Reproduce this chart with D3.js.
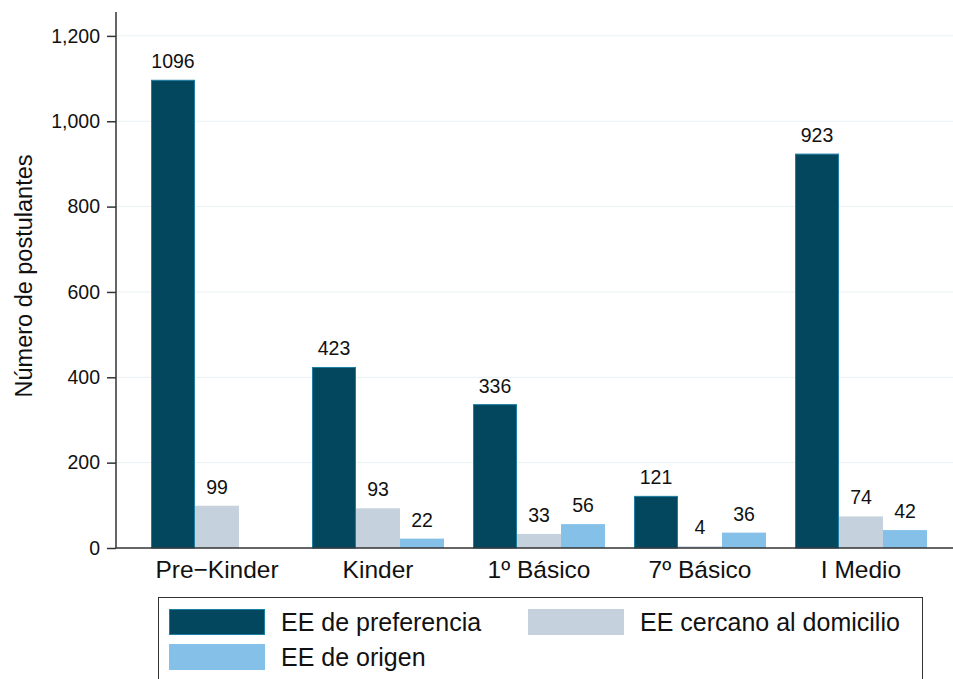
<!DOCTYPE html>
<html>
<head>
<meta charset="utf-8">
<script src="https://cdn.jsdelivr.net/npm/d3@7"></script>
<style>
  body { margin: 0; background: #fff; }
  svg { display: block; font-family: "Liberation Sans", Arial, sans-serif; }
</style>
</head>
<body>
<svg id="chart" width="953" height="679"></svg>
<script>
// data
const categories = ["Pre\u2212Kinder", "Kinder", "1\u00ba B\u00e1sico", "7\u00ba B\u00e1sico", "I Medio"];
const seriesNames = ["EE de preferencia", "EE cercano al domicilio", "EE de origen"];
const preferencia = [1096, 423, 336, 121, 923];
const cercano = [99, 93, 33, 4, 74];
const origen = [null, 22, 56, 36, 42];
const yTicks = [0, 200, 400, 600, 800, 1000, 1200];

const colors = ["#03475f", "#c5d2dd", "#85c0e9"];
const strokes = ["#1b7fa3", "none", "none"];

const svg = d3.select("#chart");
const W = 953, H = 679;
const plotLeft = 116, plotBottom = 548, plotTop = 12;

// scales
const x = d3.scaleBand()
    .domain(categories)
    .range([plotLeft, 962])
    .paddingInner(29 / 161)
    .paddingOuter(35 / 161);

const xSub = d3.scaleBand()
    .domain(seriesNames)
    .range([0, x.bandwidth()]);

const y = d3.scaleLinear()
    .domain([0, 1256])
    .range([plotBottom, plotTop]);

// gridlines
svg.append("g")
    .selectAll("line")
    .data(yTicks.filter(d => d > 0))
    .enter()
    .append("line")
    .attr("x1", plotLeft + 1)
    .attr("x2", W)
    .attr("y1", d => y(d))
    .attr("y2", d => y(d))
    .attr("stroke", "#e9f1f3")
    .attr("stroke-width", 1);

// bars
const rows = categories.map((c, i) => ({
    cat: c,
    vals: [preferencia[i], cercano[i], origen[i]]
}));

const groups = svg.selectAll(".grp")
    .data(rows)
    .enter()
    .append("g")
    .attr("class", "grp")
    .attr("transform", d => `translate(${x(d.cat)},0)`);

const cells = groups.selectAll(".cell")
    .data(d => d.vals.map((v, k) => ({ v, k })).filter(d => d.v !== null))
    .enter()
    .append("g")
    .attr("class", "cell");

cells.append("rect")
    .attr("x", d => xSub(seriesNames[d.k]) + (d.k === 0 ? 0.5 : 0))
    .attr("y", d => y(d.v))
    .attr("width", d => xSub.bandwidth() - (d.k === 0 ? 1 : 0))
    .attr("height", d => plotBottom - y(d.v))
    .attr("fill", d => colors[d.k])
    .attr("stroke", d => strokes[d.k])
    .attr("stroke-width", 1);

cells.append("text")
    .attr("x", d => xSub(seriesNames[d.k]) + xSub.bandwidth() / 2)
    .attr("y", d => y(d.v) - 12)
    .attr("text-anchor", "middle")
    .attr("font-size", 19.5)
    .attr("fill", "#111")
    .text(d => d.v);

// y axis
const yAxis = d3.axisLeft(y)
    .tickValues(yTicks)
    .tickSize(9)
    .tickPadding(7)
    .tickFormat(d3.format(","));

const gy = svg.append("g")
    .attr("transform", `translate(${plotLeft},0)`)
    .call(yAxis);
gy.select(".domain").remove();
gy.selectAll("line").attr("stroke", "#333").attr("stroke-width", 1.5);
gy.selectAll("text").attr("font-size", 19.5).attr("fill", "#111")
    .attr("font-family", "Liberation Sans, Arial, sans-serif");

svg.append("line")
    .attr("x1", plotLeft).attr("x2", plotLeft)
    .attr("y1", plotTop).attr("y2", plotBottom)
    .attr("stroke", "#333").attr("stroke-width", 1.5);

// x axis
const xAxis = d3.axisBottom(x).tickSize(0).tickPadding(12.5);
const gx = svg.append("g")
    .attr("transform", `translate(0,${plotBottom})`)
    .call(xAxis);
gx.select(".domain").remove();
gx.selectAll("text").attr("font-size", 24.5).attr("fill", "#111")
    .attr("font-family", "Liberation Sans, Arial, sans-serif");

svg.append("line")
    .attr("x1", plotLeft).attr("x2", W)
    .attr("y1", plotBottom).attr("y2", plotBottom)
    .attr("stroke", "#333").attr("stroke-width", 1.5);

// y title
svg.append("text")
    .attr("transform", `translate(32,276) rotate(-90)`)
    .attr("text-anchor", "middle")
    .attr("font-size", 23.5)
    .attr("fill", "#111")
    .text("N\u00famero de postulantes");

// legend
const legend = svg.append("g");
legend.append("rect")
    .attr("x", 158.5).attr("y", 597.5)
    .attr("width", 764).attr("height", 120)
    .attr("fill", "#fff")
    .attr("stroke", "#333").attr("stroke-width", 1);

const legPos = [[169, 609], [528, 609], [169, 644]];
seriesNames.forEach((name, k) => {
    legend.append("rect")
        .attr("x", legPos[k][0] + (k === 0 ? 0.5 : 0))
        .attr("y", legPos[k][1] + (k === 0 ? 0.5 : 0))
        .attr("width", 96 - (k === 0 ? 1 : 0))
        .attr("height", 26 - (k === 0 ? 1 : 0))
        .attr("fill", colors[k])
        .attr("stroke", strokes[k]);
    legend.append("text")
        .attr("x", legPos[k][0] + 112)
        .attr("y", legPos[k][1] + 22)
        .attr("font-size", 25)
        .attr("fill", "#111")
        .text(name);
});
</script>
</body>
</html>
